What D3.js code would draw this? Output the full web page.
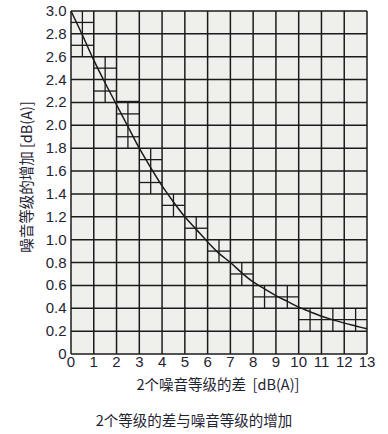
<!DOCTYPE html>
<html><head><meta charset="utf-8">
<script src="https://cdn.jsdelivr.net/npm/d3@7"></script>
<style>
html,body{margin:0;padding:0;background:#fff;}
svg{display:block;}
.num{font-family:"Liberation Sans Narrow","Arial Narrow","Liberation Sans",Arial,sans-serif;}
.cjk{font-family:"Noto Sans CJK SC","Liberation Sans",sans-serif;white-space:pre;}
</style></head>
<body>
<svg id="c" width="388" height="434"></svg>
<script>
// Data
const xTicks = [0,1,2,3,4,5,6,7,8,9,10,11,12,13];
const yTicks = [0,0.2,0.4,0.6,0.8,1.0,1.2,1.4,1.6,1.8,2.0,2.2,2.4,2.6,2.8,3.0];
const yTickLabels = ["0","0.2","0.4","0.6","0.8","1.0","1.2","1.4","1.6","1.8","2.0","2.2","2.4","2.6","2.8","3.0"];
const curveX = [0,0.5,1,1.5,2,2.5,3,3.5,4,4.5,5,5.5,6,6.5,7,7.5,8,8.5,9,9.5,10,10.5,11,11.5,12,12.5,13];
const curveY = [3.0,2.79,2.57,2.37,2.18,1.99,1.8,1.63,1.47,1.33,1.2,1.09,0.98,0.88,0.8,0.71,0.63,0.57,0.51,0.46,0.41,0.37,0.33,0.3,0.27,0.245,0.22];
// fine-grid boxes along the curve: [x0, x1, y0, y1]
const fineX0 = [0,1,2,3,4,5,6,7,8,10];
const fineX1 = [1,2,3,4,5,6,7,8,10,13];
const fineY0 = [2.6,2.2,1.8,1.4,1.2,1.0,0.8,0.6,0.4,0.2];
const fineY1 = [3.0,2.6,2.2,1.8,1.4,1.2,1.0,0.8,0.6,0.4];
const xTitle = "2个噪音等级的差  [dB(A)]";
const yTitle = "噪音等级的增加 [dB(A)]";
const caption = "2个等级的差与噪音等级的增加";

const svg = d3.select("#c");
const L=71, R=367, T=11, B=354;
const x = d3.scaleLinear().domain([0,13]).range([L,R]);
const y = d3.scaleLinear().domain([0,3]).range([B,T]);
const ink = "#1b1b1b";
const txt = "#1f2433";

svg.append("rect").attr("x",L).attr("y",T).attr("width",R-L).attr("height",B-T).attr("fill","#eff0eb");

// main grid
const g = svg.append("g").attr("stroke",ink).attr("stroke-width",1.5).attr("fill","none");
xTicks.forEach(v=>g.append("line").attr("x1",x(v)).attr("x2",x(v)).attr("y1",T).attr("y2",B));
yTicks.forEach(v=>g.append("line").attr("y1",y(v)).attr("y2",y(v)).attr("x1",L).attr("x2",R));

// fine grid
const fg = svg.append("g").attr("stroke",ink).attr("stroke-width",1.3);
fineX0.forEach((x0,i)=>{
  const x1=fineX1[i], y0=fineY0[i], y1=fineY1[i];
  for(let xv=x0+0.5; xv<x1; xv+=1){
    fg.append("line").attr("x1",x(xv)).attr("x2",x(xv)).attr("y1",y(y0)).attr("y2",y(y1));
  }
  for(let yv=y0+0.1; yv<y1-0.01; yv+=0.2){
    fg.append("line").attr("y1",y(yv)).attr("y2",y(yv)).attr("x1",x(x0)).attr("x2",x(x1));
  }
});
// doubled edge seen on third box
fg.append("line").attr("x1",x(2)).attr("x2",x(3)).attr("y1",y(2.2)-1).attr("y2",y(2.2)-1);

// curve
const line = d3.line().x((d,i)=>x(curveX[i])).y(d=>y(d)).curve(d3.curveMonotoneX);
svg.append("path").attr("d",line(curveY)).attr("fill","none").attr("stroke",ink).attr("stroke-width",1.5);

// axes labels
const xa = svg.append("g").attr("class","num").attr("font-size",15).attr("fill",txt).attr("text-anchor","middle");
xTicks.forEach(v=>xa.append("text").attr("x",x(v)).attr("y",367).text(v));
const ya = svg.append("g").attr("class","num").attr("font-size",15).attr("fill",txt).attr("text-anchor","end");
yTicks.forEach((v,i)=>ya.append("text").attr("x",66.5).attr("y",y(v)+5).text(yTickLabels[i]));

svg.append("text").attr("class","cjk").attr("xml:space","preserve").attr("font-size",14.5).attr("fill",txt)
  .attr("text-anchor","middle").attr("x",218).attr("y",390).text(xTitle);
svg.append("text").attr("class","cjk").attr("font-size",14.5).attr("fill",txt)
  .attr("text-anchor","middle").attr("transform","translate(32,177) rotate(-90)").text(yTitle);
svg.append("text").attr("class","cjk").attr("font-size",14.5).attr("fill",txt)
  .attr("text-anchor","middle").attr("x",194).attr("y",426).text(caption);
</script>
</body></html>
